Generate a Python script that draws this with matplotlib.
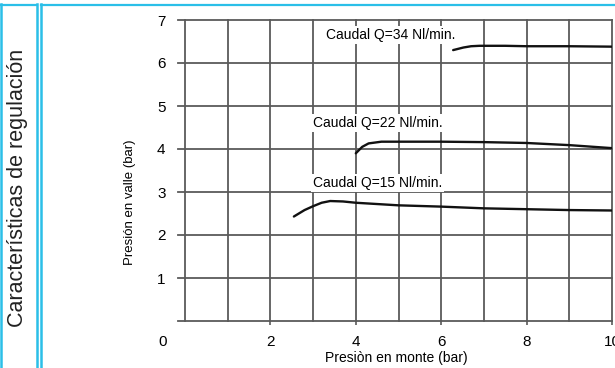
import matplotlib.pyplot as plt
from matplotlib.lines import Line2D

plt.rcParams["font.family"] = ["Liberation Sans", "DejaVu Sans"]

# curvas
q15_x = [2.55, 2.8, 3.0, 3.2, 3.4, 3.7, 4.0, 5.0, 6.0, 7.0, 8.0, 9.0, 10.0]
q15_y = [2.43, 2.58, 2.67, 2.75, 2.79, 2.78, 2.75, 2.69, 2.66, 2.62, 2.60, 2.58, 2.57]

q22_x = [4.0, 4.08, 4.15, 4.3, 4.6, 5.0, 6.0, 7.0, 8.0, 9.0, 10.0]
q22_y = [3.90, 3.98, 4.05, 4.13, 4.17, 4.17, 4.17, 4.16, 4.14, 4.09, 4.02]

q34_x = [6.28, 6.4, 6.52, 6.7, 6.9, 7.5, 8.0, 9.0, 10.0]
q34_y = [6.30, 6.33, 6.36, 6.39, 6.40, 6.40, 6.39, 6.39, 6.38]

labels = ["Caudal Q=15 Nl/min.", "Caudal Q=22 Nl/min.", "Caudal Q=34 Nl/min."]
label_pos = [(3.0, 3.2), (3.0, 4.6), (3.3, 6.65)]

xticks = [2, 4, 6, 8, 10]
yticks = [1, 2, 3, 4, 5, 6, 7]

W, H = 615, 368
fig = plt.figure(figsize=(W / 100, H / 100), dpi=100)
ax = fig.add_axes([185 / W, 1 - 321 / H, 427 / W, 301 / H])
ax.set_xlim(0, 10)
ax.set_ylim(0, 7)
for s in ax.spines.values():
    s.set_visible(False)

grid_col = "#5a5a5a"
for x in range(0, 11):
    ax.plot([x, x], [0, 7], color=grid_col, lw=1.3, clip_on=False, zorder=1)
for y in range(0, 8):
    ax.plot([-0.17, 10], [y, y], color=grid_col, lw=1.3, clip_on=False, zorder=1)

for xs, ys in [(q15_x, q15_y), (q22_x, q22_y), (q34_x, q34_y)]:
    ax.plot(xs, ys, color="#111111", lw=1.7, solid_capstyle="round", zorder=3)

for txt, (x, y) in zip(labels, label_pos):
    ax.text(x, y, txt, fontsize=10, va="center", ha="left", zorder=4,
            bbox=dict(facecolor="white", edgecolor="none", pad=1.5))

ax.set_xticks(xticks)
ax.set_xticklabels([str(v) for v in xticks])
ax.set_yticks(yticks)
ax.set_yticklabels([str(v) for v in yticks])
ax.tick_params(axis="x", length=3, width=1.2, color=grid_col, pad=7, labelsize=11)
ax.tick_params(axis="y", length=0, pad=14, labelsize=11)
ax.text(-0.52, -0.32, "0", fontsize=11, ha="center", va="top")

ax.set_xlabel("Presiòn en monte (bar)", fontsize=10)
ax.xaxis.set_label_coords(0.495, -0.1)
fig.text(130 / W, 1 - 202 / H, "Presión en valle (bar)", rotation=90,
         ha="center", va="center", fontsize=9.5)

# marco azul lateral
blue = "#2bbfe8"
for x in [1, 36.5, 40.5]:
    fig.add_artist(Line2D([x / W, x / W], [0, 1 - 4 / H], color=blue, lw=1.8))
fig.add_artist(Line2D([0, 36 / W], [1 - 4.5 / H, 1 - 4.5 / H], color=blue, lw=1.6))
fig.add_artist(Line2D([41 / W, 1], [1 - 4.5 / H, 1 - 4.5 / H], color=blue, lw=1.6))
fig.text(18 / W, 1 - 188 / H, "Características de regulación", rotation=90,
         ha="center", va="center", fontsize=15.5, color="#222222")

fig.savefig("out.png", dpi=100)
